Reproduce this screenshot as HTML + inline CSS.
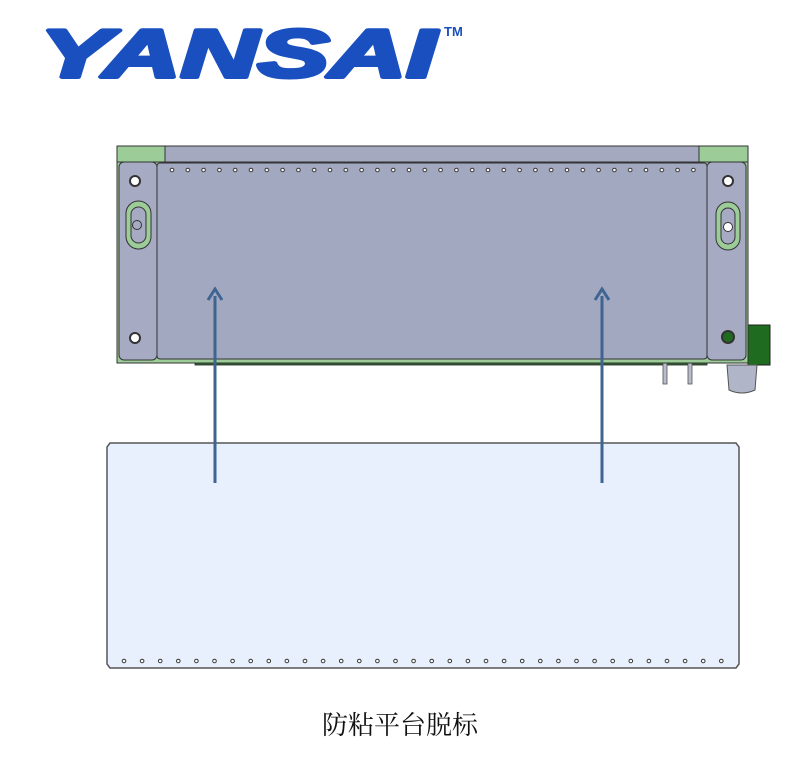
<!DOCTYPE html>
<html><head><meta charset="utf-8"><style>
html,body{margin:0;padding:0;background:#fff;width:795px;height:763px;overflow:hidden}
svg{display:block}
</style></head><body>
<svg width="795" height="763" viewBox="0 0 795 763" xmlns="http://www.w3.org/2000/svg">
<defs>
<pattern id="th" x="164.1" y="164" width="15.8" height="12" patternUnits="userSpaceOnUse">
<circle cx="7.9" cy="6" r="1.8" fill="#fff" stroke="#333" stroke-width="1"/>
</pattern>
<pattern id="bh" x="114.95" y="655" width="18.1" height="12" patternUnits="userSpaceOnUse">
<circle cx="9.05" cy="6" r="1.8" fill="#fff" stroke="#333" stroke-width="1"/>
</pattern>
</defs>
<!-- logo -->
<text x="40" y="77" font-family="Liberation Sans, sans-serif" font-weight="bold" font-style="italic" font-size="68" fill="#1a4fc0" stroke="#1a4fc0" stroke-width="4" stroke-linejoin="round" textLength="396" lengthAdjust="spacingAndGlyphs">YANSAI</text>
<text x="444" y="36" font-family="Liberation Sans, sans-serif" font-weight="bold" font-size="13" fill="#1a4fc0">TM</text>

<!-- device -->
<rect x="195" y="357" width="512" height="8" fill="#2e6b2e" stroke="#222" stroke-width="0.8"/>
<rect x="748" y="325" width="22" height="40" fill="#1f6b1f" stroke="#222" stroke-width="1"/>
<rect x="663" y="362" width="4" height="22" fill="#b8bccc" stroke="#555" stroke-width="0.8"/>
<rect x="688" y="362" width="4" height="22" fill="#b8bccc" stroke="#555" stroke-width="0.8"/>
<path d="M727 365 L757 365 L755 390 Q742 396 729 390 Z" fill="#b0b5c8" stroke="#555" stroke-width="1"/>
<rect x="117" y="146" width="48" height="17" fill="#9ccc98" stroke="#333" stroke-width="1"/>
<rect x="699" y="146" width="49" height="17" fill="#9ccc98" stroke="#333" stroke-width="1"/>
<rect x="165" y="146" width="534" height="17" fill="#a4a9c0" stroke="#333" stroke-width="1"/>
<rect x="117" y="162" width="631" height="201" fill="#9ccc98" stroke="#333" stroke-width="1"/>
<rect x="119" y="162" width="38" height="198" rx="5" fill="#a6aac2" stroke="#333" stroke-width="1"/>
<rect x="707" y="162" width="39" height="198" rx="5" fill="#a6aac2" stroke="#333" stroke-width="1"/>
<rect x="157" y="163" width="550" height="196" rx="3" fill="#a3a8c1" stroke="#333" stroke-width="1"/>
<rect x="160" y="164" width="544" height="12" fill="url(#th)"/>
<!-- left plate features -->
<circle cx="135" cy="181" r="5" fill="#fff" stroke="#333" stroke-width="2"/>
<rect x="126" y="201" width="25" height="48" rx="12.5" fill="#9ccc98" stroke="#333" stroke-width="1"/>
<rect x="131" y="207" width="15" height="36" rx="7.5" fill="#a6aac2" stroke="#333" stroke-width="1"/>
<circle cx="137" cy="225" r="4.5" fill="#a6aac2" stroke="#333" stroke-width="1"/>
<circle cx="135" cy="338" r="5" fill="#fff" stroke="#333" stroke-width="2"/>
<!-- right plate features -->
<circle cx="728" cy="181" r="5" fill="#fff" stroke="#333" stroke-width="2"/>
<rect x="716" y="202" width="24" height="48" rx="12" fill="#9ccc98" stroke="#333" stroke-width="1"/>
<rect x="721" y="208" width="14" height="36" rx="7" fill="#a6aac2" stroke="#333" stroke-width="1"/>
<circle cx="728" cy="227" r="4.5" fill="#fff" stroke="#333" stroke-width="1"/>
<circle cx="728" cy="337" r="6" fill="#1f6b1f" stroke="#333" stroke-width="2"/>

<!-- film -->
<path d="M110 443 L736 443 L739 447 L739 664 L736 668 L110 668 L107 664 L107 447 Z" fill="#e8f0fd" stroke="#555" stroke-width="1.5"/>
<rect x="115" y="655" width="615" height="12" fill="url(#bh)"/>

<!-- arrows -->
<line x1="215" y1="483" x2="215" y2="296" stroke="#3e6491" stroke-width="3"/>
<path d="M208 300 L215 289 L222 300" fill="none" stroke="#3e6491" stroke-width="3"/>
<line x1="602" y1="483" x2="602" y2="296" stroke="#3e6491" stroke-width="3"/>
<path d="M595 300 L602 289 L609 300" fill="none" stroke="#3e6491" stroke-width="3"/>

<text x="400" y="734" text-anchor="middle" font-family="Liberation Serif, 'Noto Serif CJK SC', serif" font-size="26" fill="#111">防粘平台脱标</text>
</svg>
</body></html>
